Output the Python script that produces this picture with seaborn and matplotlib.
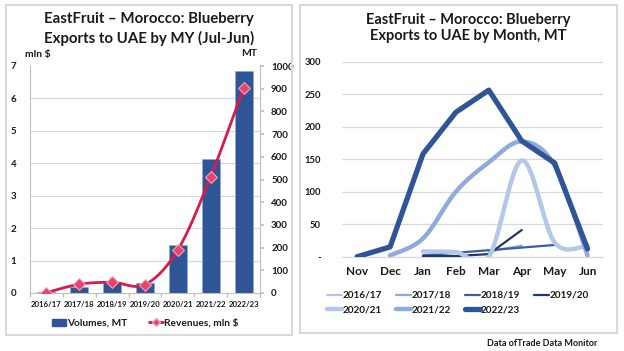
import numpy as np
import pandas as pd
import matplotlib
matplotlib.use("Agg")
import matplotlib.pyplot as plt
import seaborn as sns
from matplotlib.patches import Rectangle, Patch
from matplotlib.lines import Line2D

# ---------------- data ----------------
seasons = ["2016/17", "2017/18", "2018/19", "2019/20", "2020/21", "2021/22", "2022/23"]
volumes_mt = [3, 25, 47, 46, 210, 592, 979]
revenues_mln = [0.01, 0.27, 0.33, 0.26, 1.33, 3.59, 6.32]

months = ["Nov", "Dec", "Jan", "Feb", "Mar", "Apr", "May", "Jun"]
nan = np.nan
s_2016_17 = [nan, nan, nan, nan, nan, 3, nan, nan]
s_2017_18 = [nan, nan, nan, nan, 8, 17, nan, nan]
s_2018_19 = [nan, nan, 2, 6, 10, 14, 18, nan]
s_2019_20 = [nan, nan, 1, 1, 4, 41, nan, nan]
s_2020_21 = [nan, nan, 8, 7, 0, 148, 22, 17]
s_2021_22 = [nan, 2, 28, 100, 145, 177, 140, 2]
s_2022_23 = [0, 15, 158, 222, 256, 178, 144, 12]

# ---------------- helpers ----------------
def smooth_xy(xs, ys, n=30):
    xs = np.asarray(xs, float)
    ys = np.asarray(ys, float)
    m = ~np.isnan(ys)
    xs, ys = xs[m], ys[m]
    P = np.column_stack([xs, ys])
    out = []
    for i in range(len(P) - 1):
        p0 = P[i - 1] if i > 0 else P[i]
        p1 = P[i]
        p2 = P[i + 1]
        p3 = P[i + 2] if i + 2 < len(P) else P[i + 1]
        b1 = p1 + (p2 - p0) / 6.0
        b2 = p2 - (p3 - p1) / 6.0
        t = np.linspace(0, 1, n)[:, None]
        seg = ((1 - t) ** 3) * p1 + 3 * ((1 - t) ** 2) * t * b1 + 3 * (1 - t) * t ** 2 * b2 + t ** 3 * p2
        out.append(seg if i == 0 else seg[1:])
    arr = np.vstack(out)
    return arr[:, 0], arr[:, 1]

sns.set_theme(style="white")
plt.rcParams["font.family"] = ["Lato", "DejaVu Sans"]
plt.rcParams["font.weight"] = "bold"

W, H = 624, 351
fig = plt.figure(figsize=(W / 100, H / 100), dpi=100)

def fx(px):
    return px / W

def fy(py):
    return 1 - py / H

# panel borders
for (x0, y0, x1, y1) in [(6, 5, 292, 335), (300, 5, 617, 333)]:
    fig.patches.append(Rectangle((fx(x0), fy(y1)), fx(x1 - x0), (y1 - y0) / H,
                                 transform=fig.transFigure, fill=False,
                                 edgecolor="#D9D9D9", lw=1.5, zorder=0))

grid_c = "#D9D9D9"
txt_c = "#1a1a1a"

# ---------------- left chart ----------------
axL = fig.add_axes([fx(30), fy(293), fx(260 - 30), (293 - 66) / H])
axL2 = axL.twinx()
df_left = pd.DataFrame({"season": seasons, "volume": volumes_mt, "revenue": revenues_mln})
sns.barplot(data=df_left, x="season", y="volume", ax=axL, color="#2F5597",
            width=0.55, saturation=1, edgecolor="#8FAADC", linewidth=0.6, zorder=2)
axL.set_ylim(0, 1000)
axL.set_xlim(-0.5, 6.5)
axL.yaxis.tick_right()
axL.yaxis.set_label_position("right")
axL.set_yticks(np.arange(0, 1001, 100))
axL.set_yticklabels([str(v) for v in range(0, 1001, 100)], fontsize=7, fontweight="bold", color=txt_c)
axL.tick_params(axis="y", which="major", right=True, left=False, labelright=True, labelleft=False,
                length=3, color="#BFBFBF", pad=5)
# gridlines at the mln $ axis steps (behind the bars)
axL.set_yticks(np.arange(1, 8) * 1000 / 7, minor=True)
axL.grid(True, which="minor", axis="y", color=grid_c, lw=0.9, zorder=0)
axL.grid(False, which="major")
axL.tick_params(axis="y", which="minor", length=0, labelright=False, labelleft=False)
axL.set_axisbelow(True)
axL.set_xlabel("")
axL.set_ylabel("")
axL.set_xticks(range(len(seasons)))
axL.set_xticklabels(seasons, fontsize=5.6, fontweight="bold", color=txt_c)
axL.set_xticks(np.arange(-0.5, 7, 1), minor=True)
axL.tick_params(axis="x", which="major", length=0, pad=6)
axL.tick_params(axis="x", which="minor", bottom=True, length=3, color="#BFBFBF")
axL.spines["top"].set_visible(False)
for side in ["left", "right", "bottom"]:
    axL.spines[side].set_color("#BFBFBF")
    axL.spines[side].set_linewidth(0.8)

axL2.set_ylim(0, 7)
axL2.yaxis.tick_left()
axL2.yaxis.set_label_position("left")
axL2.set_yticks(range(0, 8))
axL2.set_yticklabels([str(v) for v in range(0, 8)], fontsize=7, fontweight="bold", color=txt_c)
axL2.tick_params(axis="y", length=0, pad=10, left=False, right=False, labelleft=True, labelright=False)
for side in ["top", "right", "left", "bottom"]:
    axL2.spines[side].set_visible(False)
sx, sy = smooth_xy(np.arange(len(seasons)), revenues_mln)
axL2.plot(sx, sy, color="#D81B4A", lw=2.0, zorder=3, solid_capstyle="round")
sns.scatterplot(x=np.arange(len(seasons)), y=revenues_mln, ax=axL2, marker="D", s=36,
                color="#E8436B", edgecolor="#F3A3B6", linewidth=0.8, zorder=4, legend=False)
axL2.set_xlim(-0.5, 6.5)
axL2.set_ylabel("")

fig.text(fx(149), fy(19), "EastFruit – Morocco: Blueberry", ha="center", va="center",
         fontsize=10.8, fontweight="bold", color=txt_c)
fig.text(fx(149), fy(38), "Exports to UAE by MY (Jul-Jun)", ha="center", va="center",
         fontsize=10.8, fontweight="bold", color=txt_c)
fig.text(fx(25), fy(54), "mln $", ha="left", va="center", fontsize=7.5, fontweight="bold", color=txt_c)
fig.text(fx(257), fy(54), "MT", ha="right", va="center", fontsize=7.5, fontweight="bold", color=txt_c)

hL = [Patch(facecolor="#2F5597", edgecolor="#2F5597"),
      Line2D([0], [0], color="#D81B4A", lw=2, marker="D", markersize=4,
             markerfacecolor="#E8436B", markeredgecolor="#F3A3B6")]
fig.legend(hL, ["Volumes, MT", "Revenues, mln $"], loc="center left",
           bbox_to_anchor=(fx(52), fy(323)), ncol=2, frameon=False, borderpad=0,
           borderaxespad=0, prop={"size": 7.3, "weight": "bold"}, handlelength=1.4,
           handletextpad=0.05, columnspacing=2.2, labelcolor=txt_c)

# ---------------- right chart ----------------
axR = fig.add_axes([fx(341.7), fy(256.7), fx(603 - 341.7), (256.7 - 61.5) / H])
xpos = np.arange(len(months))
series = [
    ("2016/17", s_2016_17, "#B4C7E7", 1.6, False),
    ("2017/18", s_2017_18, "#8FAADC", 1.6, False),
    ("2018/19", s_2018_19, "#3A5DA8", 1.6, False),
    ("2019/20", s_2019_20, "#1F3864", 1.6, False),
    ("2020/21", s_2020_21, "#B4C7E7", 3.2, True),
    ("2021/22", s_2021_22, "#8FAADC", 3.2, True),
    ("2022/23", s_2022_23, "#2F5597", 3.8, False),
]
handles = []
for name, vals, col, lw, smooth in series:
    if smooth:
        sx, sy = smooth_xy(xpos, vals)
        axR.plot(sx, sy, color=col, lw=lw, solid_capstyle="round", solid_joinstyle="round", zorder=3)
    else:
        dfs = pd.DataFrame({"x": xpos, "y": vals}).dropna()
        sns.lineplot(data=dfs, x="x", y="y", ax=axR, color=col, lw=lw, legend=False,
                     solid_capstyle="round", solid_joinstyle="round", zorder=3)
    handles.append(Line2D([0], [0], color=col, lw=lw))
axR.set_xlim(-0.47, 7.47)
axR.set_ylim(0, 300)
axR.set_yticks(range(0, 301, 50))
axR.set_yticklabels(["-"] + [str(v) for v in range(50, 301, 50)], fontsize=6.8, fontweight="bold", color=txt_c)
axR.set_xticks(xpos)
axR.set_xticklabels(months, fontsize=8.5, fontweight="bold", color=txt_c)
axR.tick_params(axis="both", length=0)
axR.tick_params(axis="y", pad=15)
axR.tick_params(axis="x", pad=7)
axR.grid(True, axis="y", color=grid_c, lw=0.9, zorder=0)
axR.set_axisbelow(True)
axR.set_xlabel("")
axR.set_ylabel("")
for side in ["top", "left", "right"]:
    axR.spines[side].set_visible(False)
axR.spines["bottom"].set_color(grid_c)
axR.spines["bottom"].set_linewidth(0.9)

fig.text(fx(468), fy(20), "EastFruit – Morocco: Blueberry", ha="center", va="center",
         fontsize=10.5, fontweight="bold", color=txt_c)
fig.text(fx(468), fy(36), "Exports to UAE by Month, MT", ha="center", va="center",
         fontsize=10.5, fontweight="bold", color=txt_c)

order = [0, 4, 1, 5, 2, 6, 3]
fig.legend([handles[i] for i in order], [series[i][0] for i in order], loc="upper left",
           bbox_to_anchor=(fx(327), fy(291)), ncol=4, frameon=False, borderpad=0,
           borderaxespad=0, prop={"size": 7.2, "weight": "bold"}, handlelength=1.5,
           handletextpad=0.1, columnspacing=1.35, labelspacing=0.55, labelcolor=txt_c)

fig.text(fx(597), fy(343), "Data ofTrade Data Monitor", ha="right", va="center",
         fontsize=6.5, fontweight="bold", color=txt_c)

fig.savefig("out.png", dpi=100)
